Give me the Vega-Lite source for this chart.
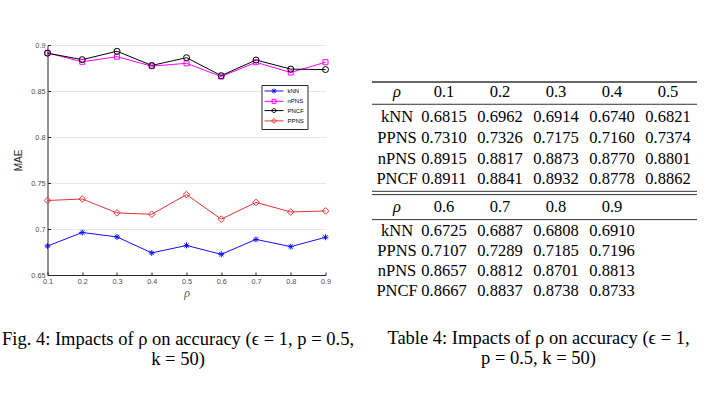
{
  "$schema": "https://vega.github.io/schema/vega-lite/v6.json",
  "background": "white",
  "padding": {"left": 1.5, "top": 41, "right": 0, "bottom": 0},
  "datasets": {
    "mae": [
      {"rho": 0.1, "method": "kNN", "mae": 0.6815}, {"rho": 0.1, "method": "PPNS", "mae": 0.7310}, {"rho": 0.1, "method": "nPNS", "mae": 0.8915}, {"rho": 0.1, "method": "PNCF", "mae": 0.8911},
      {"rho": 0.2, "method": "kNN", "mae": 0.6962}, {"rho": 0.2, "method": "PPNS", "mae": 0.7326}, {"rho": 0.2, "method": "nPNS", "mae": 0.8817}, {"rho": 0.2, "method": "PNCF", "mae": 0.8841},
      {"rho": 0.3, "method": "kNN", "mae": 0.6914}, {"rho": 0.3, "method": "PPNS", "mae": 0.7175}, {"rho": 0.3, "method": "nPNS", "mae": 0.8873}, {"rho": 0.3, "method": "PNCF", "mae": 0.8932},
      {"rho": 0.4, "method": "kNN", "mae": 0.6740}, {"rho": 0.4, "method": "PPNS", "mae": 0.7160}, {"rho": 0.4, "method": "nPNS", "mae": 0.8770}, {"rho": 0.4, "method": "PNCF", "mae": 0.8778},
      {"rho": 0.5, "method": "kNN", "mae": 0.6821}, {"rho": 0.5, "method": "PPNS", "mae": 0.7374}, {"rho": 0.5, "method": "nPNS", "mae": 0.8801}, {"rho": 0.5, "method": "PNCF", "mae": 0.8862},
      {"rho": 0.6, "method": "kNN", "mae": 0.6725}, {"rho": 0.6, "method": "PPNS", "mae": 0.7107}, {"rho": 0.6, "method": "nPNS", "mae": 0.8657}, {"rho": 0.6, "method": "PNCF", "mae": 0.8667},
      {"rho": 0.7, "method": "kNN", "mae": 0.6887}, {"rho": 0.7, "method": "PPNS", "mae": 0.7289}, {"rho": 0.7, "method": "nPNS", "mae": 0.8812}, {"rho": 0.7, "method": "PNCF", "mae": 0.8837},
      {"rho": 0.8, "method": "kNN", "mae": 0.6808}, {"rho": 0.8, "method": "PPNS", "mae": 0.7185}, {"rho": 0.8, "method": "nPNS", "mae": 0.8701}, {"rho": 0.8, "method": "PNCF", "mae": 0.8738},
      {"rho": 0.9, "method": "kNN", "mae": 0.6910}, {"rho": 0.9, "method": "PPNS", "mae": 0.7196}, {"rho": 0.9, "method": "nPNS", "mae": 0.8813}, {"rho": 0.9, "method": "PNCF", "mae": 0.8733}
    ]
  },
  "config": {
    "view": {"stroke": null},
    "title": {"font": "Liberation Serif", "fontSize": 18.5, "fontWeight": "normal", "color": "black", "lineHeight": 20}
  },
  "spacing": 16.5,
  "hconcat": [
    {
      "width": 278,
      "height": 230,
      "title": {"text": ["Fig. 4: Impacts of ρ on accuracy (ϵ = 1, p = 0.5,", "k = 50)"], "orient": "bottom", "anchor": "middle", "offset": 31.5, "dx": -8.5},
      "data": {"name": "mae"},
      "encoding": {
        "x": {"field": "rho", "type": "quantitative", "scale": {"domain": [0.1, 0.9], "nice": false},
          "axis": {"values": [0.1, 0.2, 0.3, 0.4, 0.5, 0.6, 0.7, 0.8, 0.9], "format": ".1f", "title": "ρ", "grid": false, "labelFlush": false,
            "domainColor": "#262626", "tickColor": "#262626", "tickSize": -3, "labelFont": "Liberation Sans", "labelFontSize": 7.3, "labelColor": "#4d4d4d", "labelPadding": 5,
            "titleFont": "Liberation Serif", "titleFontStyle": "italic", "titleFontWeight": "normal", "titleFontSize": 12, "titleColor": "#555555", "titlePadding": 3.5}},
        "y": {"field": "mae", "type": "quantitative", "scale": {"domain": [0.65, 0.9], "nice": false, "zero": false},
          "axis": {"values": [0.65, 0.7, 0.75, 0.8, 0.85, 0.9], "format": ".2~f", "title": "MAE", "grid": true, "gridColor": "#e6e6e6", "labelFlush": false,
            "domainColor": "#262626", "tickColor": "#262626", "tickSize": -3, "labelFont": "Liberation Sans", "labelFontSize": 7.3, "labelColor": "#4d4d4d", "labelPadding": 5.5,
            "titleFont": "Liberation Sans", "titleFontWeight": "normal", "titleFontSize": 10, "titleColor": "#262626", "titlePadding": 7.5}},
        "color": {"field": "method", "type": "nominal",
          "scale": {"domain": ["kNN", "nPNS", "PNCF", "PPNS"], "range": ["#1010ff", "#ff00ff", "#000000", "#e33434"]},
          "legend": {"orient": "none", "legendX": 214, "legendY": 40, "title": null, "fillColor": "white", "strokeColor": "#262626", "padding": 3, "cornerRadius": 0,
            "labelFont": "Liberation Sans", "labelFontSize": 6, "labelColor": "#000000", "labelOffset": 17, "rowPadding": 1.3, "symbolSize": 16, "symbolStrokeWidth": 1,
            "encode": {"symbols": {"update": {
              "fill": {"value": "transparent"},
              "shape": {"signal": "datum.value === 'kNN' ? 'M-1.5,0L8,0M2.05,0L4.45,0M3.25,-1.2L3.25,1.2M2.4,-0.85L4.1,0.85M2.4,0.85L4.1,-0.85' : datum.value === 'nPNS' ? 'M-1.5,0L8,0M2.25,-1L4.25,-1L4.25,1L2.25,1Z' : datum.value === 'PNCF' ? 'M-1.5,0L8,0M2.25,0A1,1 0 1,0 4.25,0A1,1 0 1,0 2.25,0' : 'M-1.5,0L8,0M3.25,-1.2L4.45,0L3.25,1.2L2.05,0Z'"}
            }}}}
        }
      },
      "layer": [
        {"mark": {"type": "line", "strokeWidth": 1}},
        {"transform": [{"filter": "datum.method == 'kNN'"}],
          "mark": {"type": "point", "filled": false, "strokeWidth": 1, "opacity": 1, "size": 36, "shape": "M-1,0L1,0M0,-1L0,1M-0.7,-0.7L0.7,0.7M-0.7,0.7L0.7,-0.7"}},
        {"transform": [{"filter": "datum.method == 'nPNS'"}],
          "mark": {"type": "point", "filled": false, "strokeWidth": 1, "opacity": 1, "size": 25, "shape": "square"}},
        {"transform": [{"filter": "datum.method == 'PNCF'"}],
          "mark": {"type": "point", "filled": false, "strokeWidth": 1, "opacity": 1, "size": 36, "shape": "circle"}},
        {"transform": [{"filter": "datum.method == 'PPNS'"}],
          "mark": {"type": "point", "filled": false, "strokeWidth": 1, "opacity": 1, "size": 44, "shape": "diamond"}}
      ]
    },
    {
      "title": {"text": ["Table 4: Impacts of ρ on accuracy (ϵ = 1,", "p = 0.5, k = 50)"], "orient": "bottom", "anchor": "middle", "offset": 27.5, "dx": 4},
      "spacing": 0,
      "vconcat": [
        {
          "width": 325,
          "height": 144.7,
          "layer": [
            {"data": {"name": "mae"}, "transform": [{"filter": "datum.rho < 0.55"}],
              "mark": {"type": "text", "font": "Liberation Serif", "fontSize": 16.5, "color": "black", "baseline": "middle", "align": "center"},
              "encoding": {
                "x": {"field": "rho", "type": "ordinal", "scale": {"type": "point", "domain": ["lab", 0.1, 0.2, 0.3, 0.4, 0.5], "padding": 0.402, "align": 0.356}, "axis": null},
                "y": {"field": "method", "type": "nominal", "scale": {"type": "band", "domain": ["hdr", "kNN", "PPNS", "nPNS", "PNCF"], "paddingInner": 0, "paddingOuter": 1.1175, "align": 1}, "axis": null},
                "text": {"field": "mae", "type": "quantitative", "format": ".4f"}
              }},
            {"data": {"name": "mae"}, "transform": [{"filter": "datum.rho == 0.1"}],
              "mark": {"type": "text", "font": "Liberation Serif", "fontSize": 16.5, "color": "black", "baseline": "middle", "align": "center", "dx": 9},
              "encoding": {
                "x": {"datum": "lab", "type": "ordinal"},
                "y": {"field": "method", "type": "nominal"},
                "text": {"field": "method", "type": "nominal"}
              }},
            {"data": {"name": "mae"}, "transform": [{"filter": "datum.method == 'kNN' && datum.rho < 0.55"}],
              "mark": {"type": "text", "font": "Liberation Serif", "fontSize": 16.5, "color": "black", "baseline": "middle", "align": "center", "dy": -5},
              "encoding": {
                "x": {"field": "rho", "type": "ordinal"},
                "y": {"datum": "hdr", "type": "nominal"},
                "text": {"field": "rho", "type": "quantitative", "format": ".1f"}
              }},
            {"data": {"values": [{}]},
              "mark": {"type": "text", "font": "Liberation Serif", "fontSize": 16.5, "fontStyle": "italic", "color": "black", "baseline": "middle", "align": "center", "dx": 9, "dy": -5, "text": "ρ"},
              "encoding": {
                "x": {"datum": "lab", "type": "ordinal"},
                "y": {"datum": "hdr", "type": "nominal"}
              }},
            {"data": {"values": [{}]},
              "mark": {"type": "rule", "color": "#333333", "strokeWidth": 1.6, "yOffset": -14.7},
              "encoding": {"y": {"datum": "hdr", "type": "nominal"}}},
            {"data": {"values": [{}]},
              "mark": {"type": "rule", "color": "#333333", "strokeWidth": 1, "yOffset": 7.6},
              "encoding": {"y": {"datum": "hdr", "type": "nominal"}}}
          ]
        },
        {
          "width": 325,
          "height": 111,
          "layer": [
            {"data": {"name": "mae"}, "transform": [{"filter": "datum.rho > 0.55"}],
              "mark": {"type": "text", "font": "Liberation Serif", "fontSize": 16.5, "color": "black", "baseline": "middle", "align": "center"},
              "encoding": {
                "x": {"field": "rho", "type": "ordinal", "scale": {"type": "point", "domain": ["lab", 0.6, 0.7, 0.8, 0.9, "pad"], "padding": 0.402, "align": 0.356}, "axis": null},
                "y": {"field": "method", "type": "nominal", "scale": {"type": "band", "domain": ["hdr", "kNN", "PPNS", "nPNS", "PNCF"], "paddingInner": 0, "paddingOuter": 0.275, "align": 1}, "axis": null},
                "text": {"field": "mae", "type": "quantitative", "format": ".4f"}
              }},
            {"data": {"name": "mae"}, "transform": [{"filter": "datum.rho == 0.6"}],
              "mark": {"type": "text", "font": "Liberation Serif", "fontSize": 16.5, "color": "black", "baseline": "middle", "align": "center", "dx": 9},
              "encoding": {
                "x": {"datum": "lab", "type": "ordinal"},
                "y": {"field": "method", "type": "nominal"},
                "text": {"field": "method", "type": "nominal"}
              }},
            {"data": {"name": "mae"}, "transform": [{"filter": "datum.method == 'kNN' && datum.rho > 0.55"}],
              "mark": {"type": "text", "font": "Liberation Serif", "fontSize": 16.5, "color": "black", "baseline": "middle", "align": "center", "dy": -4},
              "encoding": {
                "x": {"field": "rho", "type": "ordinal"},
                "y": {"datum": "hdr", "type": "nominal"},
                "text": {"field": "rho", "type": "quantitative", "format": ".1f"}
              }},
            {"data": {"values": [{}]},
              "mark": {"type": "text", "font": "Liberation Serif", "fontSize": 16.5, "fontStyle": "italic", "color": "black", "baseline": "middle", "align": "center", "dx": 9, "dy": -4, "text": "ρ"},
              "encoding": {
                "x": {"datum": "lab", "type": "ordinal"},
                "y": {"datum": "hdr", "type": "nominal"}
              }},
            {"data": {"values": [{}]},
              "mark": {"type": "rule", "color": "#333333", "strokeWidth": 1, "yOffset": -19.7},
              "encoding": {"y": {"datum": "hdr", "type": "nominal"}}},
            {"data": {"values": [{}]},
              "mark": {"type": "rule", "color": "#333333", "strokeWidth": 1, "yOffset": -16.4},
              "encoding": {"y": {"datum": "hdr", "type": "nominal"}}},
            {"data": {"values": [{}]},
              "mark": {"type": "rule", "color": "#333333", "strokeWidth": 1, "yOffset": 8.6},
              "encoding": {"y": {"datum": "hdr", "type": "nominal"}}}
          ]
        }
      ]
    }
  ]
}
